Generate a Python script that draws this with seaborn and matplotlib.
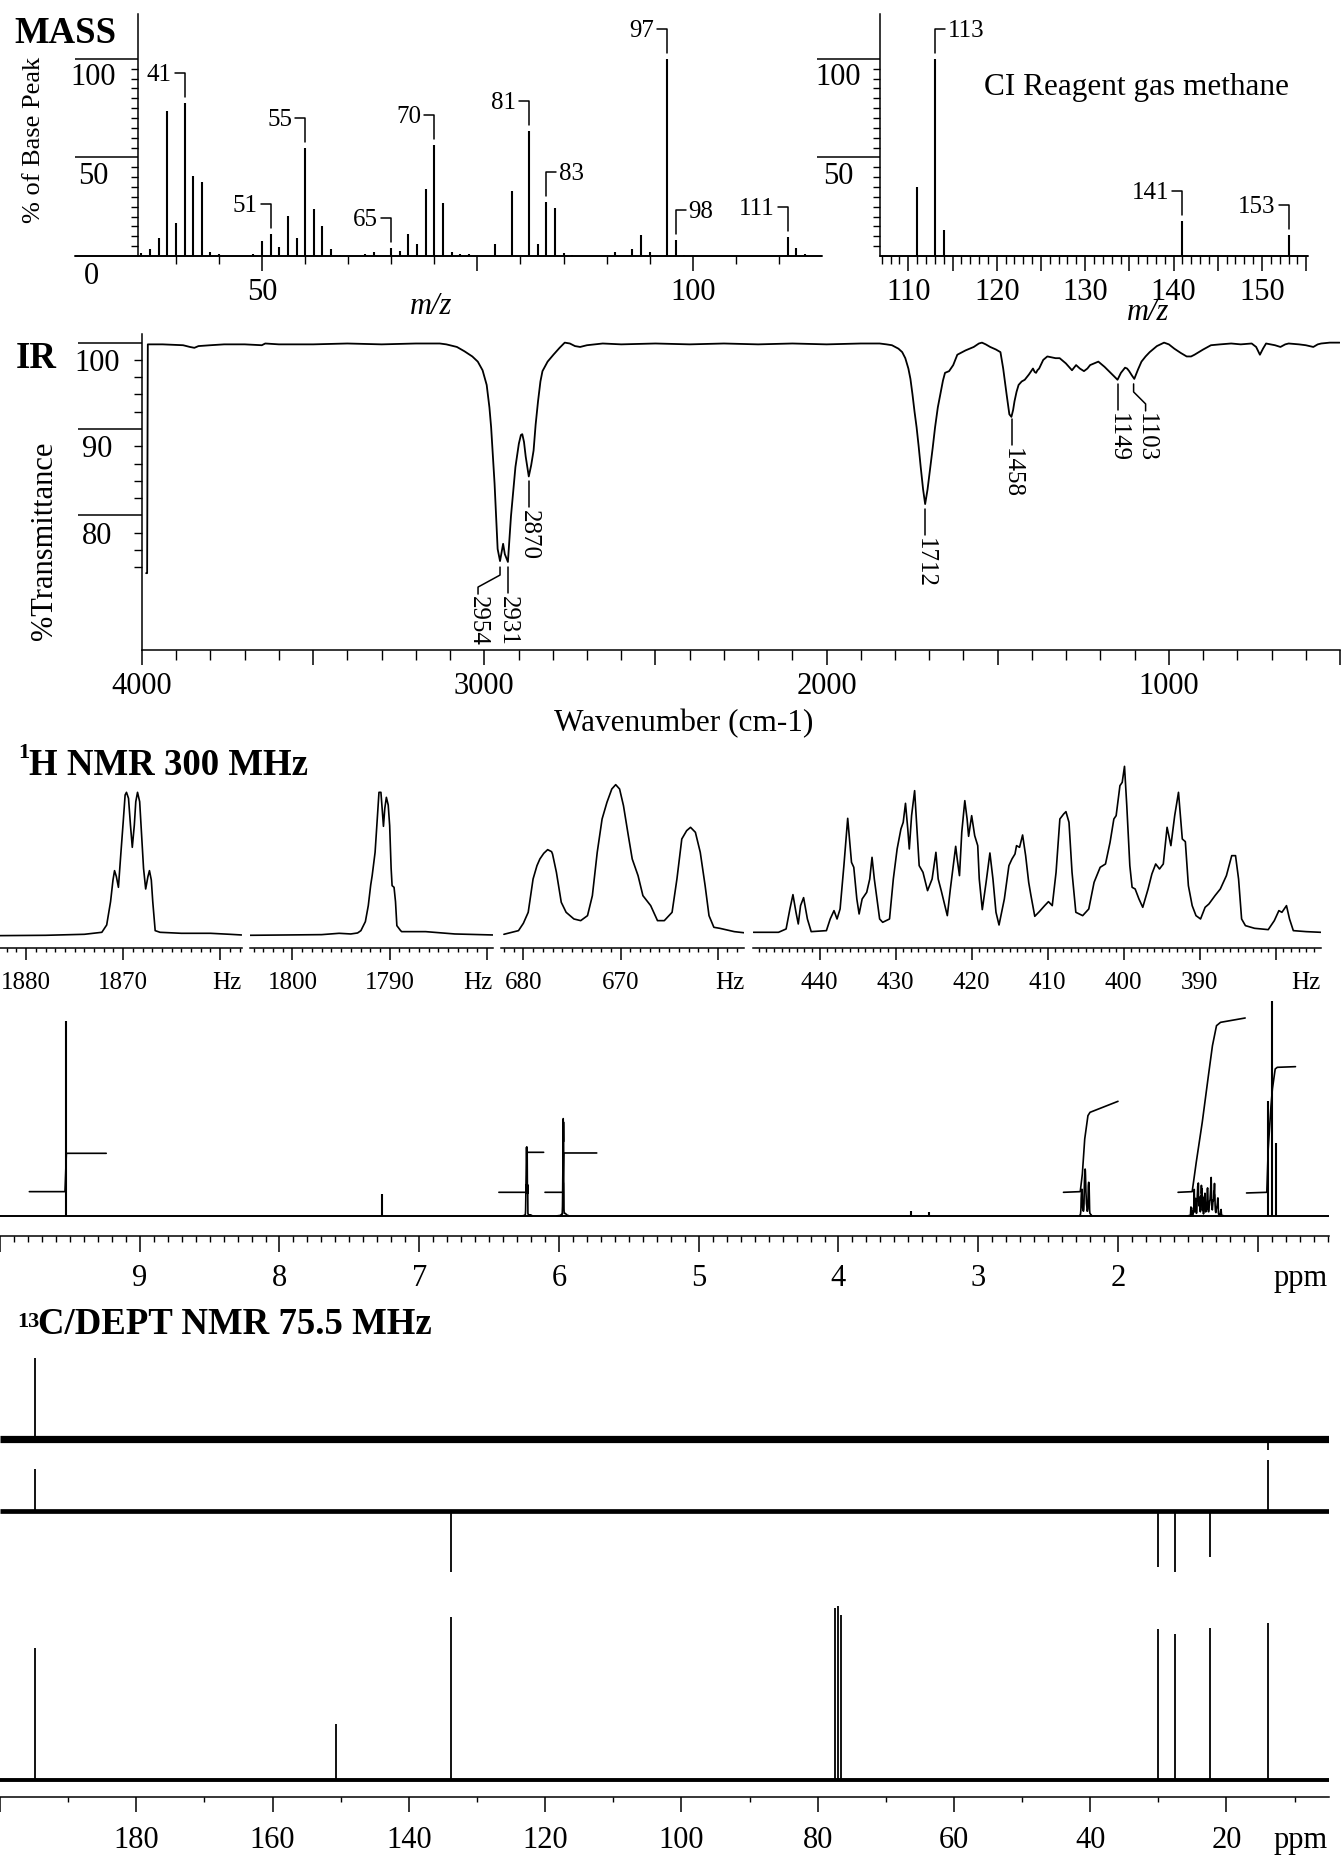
import numpy as np
import matplotlib
matplotlib.use("Agg")
import matplotlib.pyplot as plt
from matplotlib.ticker import MultipleLocator, FixedLocator
import seaborn as sns

# ---------------------------------------------------------------- data
# EI mass spectrum (m/z, % of base peak)
EI_MZ = [36, 37, 38, 39, 40, 41, 42, 43, 44, 45, 49, 50, 51, 52, 53, 54, 55, 56, 57, 58,
         59, 62, 63, 65, 66, 67, 68, 69, 70, 71, 72, 73, 74, 77, 79, 81, 82, 83, 84, 85,
         86, 91, 93, 94, 95, 97, 98, 99, 111, 112, 113]
EI_INT = [1.4, 3.7, 9.3, 73.4, 16.6, 77.5, 40.7, 37.3, 2.2, 1.0, 1.0, 7.6, 11.0, 4.7, 20.3, 9.0, 54.6, 23.7, 15.0, 3.4,
          0.5, 1.0, 2.2, 4.2, 2.5, 11.4, 6.3, 33.9, 56.4, 26.8, 2.0, 1.0, 0.8, 5.9, 33.0, 63.2, 6.3, 27.6, 24.2, 1.5,
          0.5, 2.2, 3.7, 10.5, 2.2, 100.0, 8.1, 0.5, 9.7, 4.2, 1.0]
EI_LABELS = [41, 51, 55, 65, 70, 81, 83, 97, 98, 111]
EI_LABEL_SIDE = ['l', 'l', 'l', 'l', 'l', 'l', 'r', 'l', 'r', 'l']

# CI mass spectrum
CI_MZ = [111, 113, 114, 141, 153]
CI_INT = [35.0, 100.0, 13.0, 17.8, 10.5]
CI_LABELS = [113, 141, 153]
CI_LABEL_SIDE = ['r', 'l', 'l']

# IR spectrum (wavenumber, %T)
IR_WN = [3988, 3985, 3983, 3940, 3880, 3860, 3847, 3835, 3800, 3760, 3700, 3650, 3640, 3600, 3500, 3400,
         3300, 3200, 3130, 3111, 3080, 3058, 3035, 3019, 3005, 2993, 2985, 2980, 2975, 2970, 2965, 2961,
         2954, 2949, 2945, 2940, 2931, 2922, 2915, 2909, 2899, 2893, 2889, 2884, 2879, 2870, 2863, 2856,
         2850, 2843, 2836, 2830, 2815, 2798, 2780, 2765, 2750, 2735, 2720, 2700, 2654, 2600, 2500, 2400,
         2300, 2200, 2100, 2000, 1900, 1845, 1825, 1809, 1790, 1779, 1770, 1761, 1755, 1749, 1743, 1737,
         1731, 1725, 1718, 1712, 1705, 1699, 1690, 1683, 1675, 1666, 1660, 1654, 1648, 1642, 1630, 1618,
         1594, 1570, 1555, 1546, 1535, 1522, 1505, 1492, 1484, 1479, 1474, 1466, 1460, 1455, 1451, 1445,
         1439, 1430, 1421, 1409, 1397, 1392, 1388, 1384, 1379, 1367, 1355, 1343, 1331, 1319, 1310, 1301,
         1292, 1283, 1271, 1260, 1248, 1238, 1230, 1218, 1206, 1197, 1188, 1170, 1160, 1150, 1140, 1128,
         1122, 1116, 1108, 1101, 1090, 1080, 1068, 1056, 1035, 1014, 1000, 984, 965, 948, 935, 925,
         900, 877, 850, 818, 790, 758, 745, 734, 725, 716, 690, 674, 660, 650, 620, 600,
         578, 565, 555, 530, 501]
IR_T = [73.3, 73.3, 99.8, 99.8, 99.7, 99.5, 99.4, 99.6, 99.7, 99.8, 99.8, 99.7, 99.9, 99.8, 99.8, 99.9,
        99.8, 99.9, 99.9, 99.8, 99.5, 99.0, 98.4, 97.8, 96.8, 95.1, 92.5, 90.2, 87.0, 83.7, 79.5, 76.1,
        74.7, 75.8, 76.7, 75.5, 74.6, 79.9, 83.0, 85.6, 88.3, 89.3, 89.4, 88.5, 86.8, 84.5, 85.8, 87.5,
        90.5, 93.2, 95.5, 96.7, 97.8, 98.6, 99.4, 100.0, 99.9, 99.6, 99.5, 99.7, 99.9, 99.8, 99.9, 99.8,
        99.9, 99.8, 99.9, 99.8, 99.9, 99.9, 99.8, 99.7, 99.3, 98.9, 98.2, 97.0, 95.8, 94.0, 92.0, 90.2,
        88.0, 85.6, 83.0, 81.3, 83.0, 84.9, 87.8, 90.2, 92.5, 94.4, 95.6, 96.5, 96.6, 96.7, 97.4, 98.6,
        99.1, 99.5, 99.9, 100.0, 99.8, 99.5, 99.2, 98.9, 97.0, 95.5, 94.0, 91.7, 91.4, 92.2, 93.2, 94.3,
        95.1, 95.5, 95.7, 96.3, 97.0, 96.6, 96.5, 96.8, 97.0, 98.0, 98.4, 98.3, 98.2, 98.2, 97.9, 97.6,
        97.2, 96.8, 97.4, 97.0, 96.7, 97.0, 97.4, 97.6, 97.8, 97.5, 97.2, 96.5, 96.1, 95.7, 96.5, 97.1,
        97.0, 96.7, 96.2, 95.8, 96.9, 97.8, 98.4, 98.9, 99.6, 100.0, 99.8, 99.3, 98.8, 98.4, 98.4, 98.6,
        99.2, 99.7, 99.8, 99.9, 99.8, 99.9, 99.5, 98.6, 99.3, 99.9, 99.7, 99.5, 99.8, 99.9, 99.8, 99.7,
        99.5, 99.8, 99.9, 100.0, 100.0]
IR_LABEL_WN = [2954, 2931, 2870, 1712, 1458, 1149, 1103]
IR_LABEL_SHIFT = [-22, 0, 0, 0, 0, 0, 12]

# 1H NMR expansions (Hz, intensity)
P1_HZ = [1882.7, 1878.0, 1874.0, 1872.2, 1871.7, 1871.3, 1871.05, 1870.89, 1870.7, 1870.49,
         1870.25, 1870.0, 1869.8, 1869.66, 1869.45, 1869.25, 1869.06, 1868.85, 1868.7, 1868.52,
         1868.3, 1868.1, 1867.9, 1867.68, 1867.45, 1867.29, 1867.1, 1866.95, 1866.7, 1866.2,
         1864.0, 1861.0, 1859.0, 1857.8]
P1_H = [-2, -1, 2, 8, 30, 100, 165, 193, 175, 143,
        240, 338, 420, 428, 410, 330, 263, 330, 400, 428,
        400, 300, 200, 138, 175, 193, 165, 100, 13, 8,
        5, 5, 2, 0]
P2_HZ = [1804.4, 1800.6, 1797.0, 1795.2, 1794.0, 1793.3, 1792.96, 1792.5, 1792.2, 1791.95,
         1791.8, 1791.5, 1791.25, 1791.1, 1790.9, 1790.75, 1790.64, 1790.5, 1790.34, 1790.15,
         1790.0, 1789.85, 1789.75, 1789.55, 1789.4, 1789.26, 1788.9, 1788.77, 1786.3, 1783.3,
         1779.4]
P2_H = [-1, 0, 1, 5, 3, 6, 13, 40, 88, 150,
        178, 248, 360, 428, 428, 370, 326, 380, 413, 390,
        328, 200, 148, 143, 100, 28, 14, 10, 10, 3,
        0]
P3_HZ = [682.0, 680.5, 680.0, 679.5, 679.0, 678.6, 678.3, 677.9, 677.5, 677.1,
         677.0, 676.6, 676.1, 675.6, 674.8, 674.1, 673.4, 672.9, 672.4, 671.9,
         671.4, 670.9, 670.5, 670.1, 669.7, 669.2, 668.8, 668.2, 667.7, 666.9,
         666.2, 665.5, 664.7, 664.2, 663.7, 663.2, 662.8, 662.3, 661.8, 661.3,
         660.9, 660.4, 659.8, 658.3, 657.1]
P3_H = [2, 13, 35, 68, 168, 208, 228, 245, 256, 250,
        243, 188, 98, 68, 48, 43, 58, 118, 248, 348,
        398, 438, 451, 438, 388, 298, 228, 178, 118, 88,
        43, 43, 68, 168, 288, 313, 323, 308, 248, 148,
        58, 23, 20, 10, 6]
P4_HZ = [448.7, 445.4, 444.4, 443.9, 443.5, 443.1, 442.8, 442.5, 442.1, 441.6,
         441.1, 439.1, 438.6, 438.1, 437.7, 437.3, 436.8, 436.3, 435.8, 435.5,
         435.1, 434.8, 434.4, 433.8, 433.4, 433.1, 432.8, 432.4, 432.1, 431.7,
         430.8, 430.3, 429.8, 429.3, 429.0, 428.7, 428.4, 428.2, 427.9, 427.5,
         427.2, 426.9, 426.4, 425.8, 425.2, 424.7, 424.4, 424.0, 423.2, 422.8,
         422.1, 421.9, 421.6, 421.3, 420.9, 420.6, 420.4, 420.0, 419.6, 419.2,
         419.0, 418.6, 418.1, 417.6, 417.2, 416.8, 416.4, 415.7, 415.1, 414.7,
         414.3, 414.1, 413.7, 413.3, 412.9, 412.5, 412.2, 411.7, 411.1, 410.4,
         409.9, 409.4, 408.9, 408.4, 407.9, 407.6, 407.2, 406.8, 406.3, 405.4,
         404.6, 403.9, 403.1, 402.4, 401.8, 401.3, 401.0, 400.5, 400.2, 399.9,
         399.6, 399.2, 398.9, 398.5, 398.0, 397.5, 396.8, 396.3, 395.8, 395.3,
         394.8, 394.3, 393.8, 393.3, 392.8, 392.3, 391.9, 391.5, 391.0, 390.5,
         389.9, 389.3, 388.8, 388.0, 387.3, 386.5, 385.8, 385.3, 384.9, 384.5,
         384.0, 382.8, 381.0, 380.2, 379.6, 379.2, 378.6, 378.2, 377.7, 376.0,
         374.1]
P4_H = [0, 0, 10, 70, 113, 60, 25, 80, 104, 40,
        2, 5, 40, 65, 40, 70, 200, 342, 210, 195,
        100, 55, 100, 120, 160, 225, 160, 90, 40, 30,
        40, 160, 250, 310, 330, 387, 310, 250, 350, 425,
        310, 200, 180, 125, 160, 240, 160, 125, 50, 130,
        258, 220, 170, 300, 395, 340, 288, 350, 290, 260,
        160, 68, 150, 238, 160, 60, 22, 100, 200, 220,
        235, 260, 255, 292, 230, 150, 110, 48, 62, 80,
        92, 80, 180, 340, 355, 362, 330, 180, 60, 50,
        70, 150, 195, 205, 270, 340, 350, 440, 450, 498,
        380, 200, 135, 130, 100, 75, 130, 175, 205, 190,
        205, 315, 260, 350, 420, 280, 272, 140, 80, 50,
        40, 75, 85, 110, 130, 170, 230, 230, 160, 40,
        20, 12, 8, 35, 65, 60, 80, 40, 5, 2,
        0]
EXP_TICK_LABELS = [[1880, 1870], [1800, 1790], [680, 670], [440, 430, 420, 410, 400, 390]]
SPEC_FREQ_MHZ = 300.0
FULL_SCALE = [0.48, 0.68, 0.31, 0.23]   # multiplet heights in the full spectrum relative to expansions

# 1H full spectrum: single lines (ppm, height)
H_STICK_PPM = [9.53, 7.27, 3.48, 3.35, 0.93, 0.90, 0.87]
H_STICK_H = [585, 65, 15, 12, 345, 645, 218]
# integral traces (ppm, height)
INT_PPM = [[9.79, 9.535, 9.525, 9.24],
           [6.43, 6.236, 6.228, 6.11],
           [6.10, 5.973, 5.965, 5.73],
           [2.39, 2.27, 2.255, 2.238, 2.215, 2.20, 2.00],
           [1.57, 1.469, 1.44, 1.397, 1.353, 1.324, 1.295, 1.266, 1.09],
           [1.08, 0.935, 0.925, 0.905, 0.895, 0.875, 0.86, 0.73]]
INT_H = [[72, 72, 187, 187],
         [70, 70, 190, 190],
         [70, 70, 188, 188],
         [70, 72, 125, 230, 300, 310, 343],
         [70, 72, 160, 280, 420, 510, 570, 580, 593],
         [68, 70, 200, 330, 380, 440, 445, 447]]

# 13C / DEPT
C13_PPM = [194.9, 150.7, 133.8, 77.4, 77.0, 76.6, 30.0, 27.5, 22.4, 13.9]
C13_INT = [131.5, 55.7, 163.0, 171.5, 173.5, 165.0, 150.7, 145.5, 151.8, 157.0]
DEPT135_PPM = [194.9, 133.8, 30.0, 27.5, 22.4, 13.9]
DEPT135_INT = [42.5, -61.0, -56.4, -61.0, -46.0, 51.0]
DEPT90_PPM = [194.9, 13.9]
DEPT90_INT = [81.5, -10.7]

# ---------------------------------------------------------------- style
sns.set_theme(style="ticks", rc={
    "axes.edgecolor": "black", "text.color": "black",
    "xtick.color": "black", "ytick.color": "black",
    "axes.linewidth": 1.1, "xtick.major.width": 1.1, "ytick.major.width": 1.1,
    "xtick.minor.width": 1.0, "ytick.minor.width": 1.0,
})
plt.rcParams['font.family'] = ['Liberation Serif', 'DejaVu Serif']

W, H = 1341, 1856
fig = plt.figure(figsize=(W / 100, H / 100), dpi=100)
fig.patch.set_facecolor('white')
PT = 0.72  # points per pixel at 100 dpi


def add_ax(x0, y0, x1, y1):
    ax = fig.add_axes([x0 / W, 1 - y1 / H, (x1 - x0) / W, (y1 - y0) / H])
    ax.set_facecolor('none')
    for s in ax.spines.values():
        s.set_visible(False)
    return ax


def ftext(x, y, s, **kw):
    fig.text(x / W, 1 - y / H, s, **kw)


def xlab(ax, val, ycen, s, size, **kw):
    X = ax.transData.transform((val, ax.get_ylim()[0]))[0]
    kw.setdefault('ha', 'center')
    fig.text(X / W, 1 - ycen / H, s, va='center', fontsize=size, **kw)


def d2p(ax, x, y):
    return ax.transData.transform((x, y))


def p2d(ax, pts):
    return ax.transData.inverted().transform(pts)


def line(ax, x, y, lw=1.3, **kw):
    sns.lineplot(x=list(x), y=list(y), ax=ax, color='black', lw=lw, sort=False,
                 estimator=None, legend=False, **kw)


# ---------------------------------------------------------------- MASS
def ms_panel(ax, mz, inten, labels, sides, xlim, major, minor, ticklabels, extend_left):
    ax.set_xlim(*xlim)
    ax.set_ylim(0, 122.8)
    ax.spines['left'].set_visible(True)
    ax.spines['left'].set_bounds(0, 122.8)
    ax.vlines(mz, 0, inten, color='black', lw=1.5)
    ax.plot([extend_left, 1], [0, 0], color='black', lw=1.4,
            transform=ax.get_yaxis_transform(), clip_on=False)
    ax.xaxis.set_major_locator(FixedLocator(major))
    ax.xaxis.set_minor_locator(FixedLocator(minor))
    ax.tick_params(axis='x', which='major', length=15 * PT, direction='out', labelbottom=False)
    ax.tick_params(axis='x', which='minor', length=8 * PT, direction='out')
    ax.yaxis.set_major_locator(FixedLocator([50, 100]))
    ax.yaxis.set_minor_locator(FixedLocator(list(range(5, 100, 5))))
    ax.tick_params(axis='y', which='major', length=63 * PT, direction='out', labelleft=False)
    ax.tick_params(axis='y', which='minor', length=7 * PT, direction='out')
    ax.set_xlabel('')
    ax.set_ylabel('')
    for m, s in zip(labels, sides):
        val = inten[mz.index(m)]
        X, Y = d2p(ax, m, val)
        y0, y1 = Y + 6, Y + 30
        xa = X - 10 if s == 'l' else X + 10
        P = p2d(ax, [(X, y0), (X, y1), (xa, y1)])
        ax.plot(P[:, 0], P[:, 1], color='black', lw=1.1, clip_on=False)
        tx = xa - 3 if s == 'l' else xa + 3
        T = p2d(ax, [(tx, y1 - 1)])[0]
        ax.text(T[0], T[1], str(m), ha='right' if s == 'l' else 'left', va='center',
                fontsize=18, clip_on=False)
    for v in ticklabels:
        xlab(ax, v, 293, str(v), 22)


ax_ei = add_ax(138, 15, 822, 257)
ms_panel(ax_ei, EI_MZ, EI_INT, EI_LABELS, EI_LABEL_SIDE, (35.6, 115),
         [50, 75, 100], list(range(40, 115, 5)), [50, 100], -63 / 684)
ax_ci = add_ax(880, 15, 1308, 257)
ms_panel(ax_ci, CI_MZ, CI_INT, CI_LABELS, CI_LABEL_SIDE, (106.8, 155.2),
         list(range(110, 156, 5)), list(range(107, 156)), [110, 120, 130, 140, 150], 0)

for ax, xc in ((ax_ei, 93.5), (ax_ci, 838)):
    for v in (100, 50):
        Y = H - d2p(ax, 0, v)[1]
        ftext(xc, Y + 18, str(v), fontsize=22, ha='center', va='center')

ftext(14.6, 42.7, 'MASS', fontsize=26.5, fontweight='bold', va='baseline', ha='left')
ftext(34, 140, '% of Base Peak', fontsize=19, rotation=90, ha='center', va='center')
ftext(91.5, 277, '0', fontsize=22, ha='center', va='center')
ftext(431, 307, 'm/z', fontsize=22, style='italic', ha='center', va='center')
ftext(1148, 313, 'm/z', fontsize=22, style='italic', ha='center', va='center')
ftext(1136, 88, 'CI Reagent gas methane', fontsize=22.5, ha='center', va='center')

# ---------------------------------------------------------------- IR
ax_ir = add_ax(142, 335, 1340, 651)
ax_ir.set_xlim(4000, 500)
ax_ir.set_ylim(64.4, 101.0)
ax_ir.spines['left'].set_visible(True)
ax_ir.spines['bottom'].set_visible(True)
line(ax_ir, IR_WN, IR_T, lw=1.3)
ax_ir.set_xlabel('')
ax_ir.set_ylabel('')
ax_ir.xaxis.set_major_locator(MultipleLocator(500))
ax_ir.xaxis.set_minor_locator(MultipleLocator(100))
ax_ir.tick_params(axis='x', which='major', length=15 * PT, direction='out', labelbottom=False)
ax_ir.tick_params(axis='x', which='minor', length=10 * PT, direction='out')
ax_ir.yaxis.set_major_locator(FixedLocator([80, 90, 100]))
ax_ir.yaxis.set_minor_locator(FixedLocator(list(range(74, 100, 2))))
ax_ir.tick_params(axis='y', which='major', length=64 * PT, direction='out', labelleft=False)
ax_ir.tick_params(axis='y', which='minor', length=8 * PT, direction='out')
for v in (4000, 3000, 2000, 1000):
    xlab(ax_ir, v, 687, str(v), 22)
for v in (100, 90, 80):
    Y = H - d2p(ax_ir, 4000, v)[1]
    ftext(97, Y + 20, str(v), fontsize=22, ha='center', va='center')

wn_rev = IR_WN[::-1]
t_rev = IR_T[::-1]
for wn, dx in zip(IR_LABEL_WN, IR_LABEL_SHIFT):
    T = float(np.interp(wn, wn_rev, t_rev))
    X, Y = d2p(ax_ir, wn, T)
    if dx == 0:
        pts = [(X, Y - 5), (X, Y - 31)]
        ty = Y - 33
    else:
        pts = [(X, Y - 6), (X, Y - 14), (X + dx, Y - 26), (X + dx, Y - 33)]
        ty = Y - 34
    P = p2d(ax_ir, pts)
    ax_ir.plot(P[:, 0], P[:, 1], color='black', lw=1.1, clip_on=False)
    Tt = p2d(ax_ir, [(X + dx, ty)])[0]
    ax_ir.text(Tt[0], Tt[1], str(wn), rotation=-90, ha='center', va='top', fontsize=18)

ftext(15.6, 368, 'IR', fontsize=26.5, fontweight='bold', va='baseline', ha='left')
ftext(44.6, 541, '%Transmittance', fontsize=22, rotation=90, ha='center', va='center')
ftext(684, 724, 'Wavenumber (cm-1)', fontsize=22.5, ha='center', va='center')

# ---------------------------------------------------------------- 1H expansions
ftext(18, 758, '1', fontsize=16, fontweight='bold', va='baseline', ha='left')
ftext(28.7, 775, 'H NMR 300 MHz', fontsize=26.5, fontweight='bold', va='baseline', ha='left')

exp_panels = [
    ((0, 241.5), (1882.7, 1857.8), P1_HZ, P1_H, 588),
    ((249.7, 492.7), (1804.4, 1779.4), P2_HZ, P2_H, 588),
    ((501, 744), (682.3, 657.3), P3_HZ, P3_H, 588),
    ((753.4, 1320.7), (448.7, 374.1), P4_HZ, P4_H, 580),
]
for (xr, xl, hz, hh, base), labs in zip(exp_panels, EXP_TICK_LABELS):
    ax = add_ax(xr[0], 760, xr[1], 949.3)
    ax.set_xlim(*xl)
    ax.set_ylim(base - 628, base - 60)
    ax.spines['bottom'].set_visible(True)
    line(ax, hz, hh, lw=1.2)
    ax.set_xlabel('')
    ax.set_ylabel('')
    ax.set_yticks([])
    ax.xaxis.set_major_locator(MultipleLocator(10))
    ax.xaxis.set_minor_locator(MultipleLocator(1))
    ax.tick_params(axis='x', which='major', length=12 * PT, direction='out', labelbottom=False)
    ax.tick_params(axis='x', which='minor', length=4 * PT, direction='out')
    for v in labs:
        xlab(ax, v, 983.3, str(v), 18)
    ftext(xr[1], 983.3, 'Hz', fontsize=18, ha='right', va='center')

# ---------------------------------------------------------------- 1H full spectrum
ax_h = add_ax(0, 990, 1329, 1237.3)
ax_h.set_xlim(10.0, 0.49)
ax_h.set_ylim(-62, 680)
ax_h.spines['bottom'].set_visible(True)
ax_h.hlines(0, 10.0, 0.49, color='black', lw=1.4)
ax_h.vlines(H_STICK_PPM, 0, H_STICK_H, color='black', lw=1.5)
for (xr, xl, hz, hh, base), sc in zip(exp_panels, FULL_SCALE):
    line(ax_h, np.array(hz) / SPEC_FREQ_MHZ, np.array(hh) * sc, lw=1.2)
for xp, yp in zip(INT_PPM, INT_H):
    line(ax_h, xp, yp, lw=1.2)
ax_h.set_xlabel('')
ax_h.set_ylabel('')
ax_h.set_yticks([])
ax_h.xaxis.set_major_locator(MultipleLocator(1))
ax_h.xaxis.set_minor_locator(MultipleLocator(0.1))
ax_h.tick_params(axis='x', which='major', length=16 * PT, direction='out', labelbottom=False)
ax_h.tick_params(axis='x', which='minor', length=6 * PT, direction='out')
for v in range(9, 1, -1):
    xlab(ax_h, v, 1278.3, str(v), 22)
ftext(1328, 1278.3, 'ppm', fontsize=22, ha='right', va='center')

# ---------------------------------------------------------------- 13C / DEPT
ftext(17, 1327, '13', fontsize=16, fontweight='bold', va='baseline', ha='left')
ftext(38, 1333.7, 'C/DEPT NMR 75.5 MHz', fontsize=26.5, fontweight='bold', va='baseline', ha='left')

ax_c = add_ax(0, 1340, 1328.7, 1798.2)
ax_c.set_xlim(200, 5)
ax_c.set_ylim(0, 458.2)
ax_c.spines['bottom'].set_visible(True)
traces = [(DEPT90_PPM, DEPT90_INT, 358.2, 5.2),
          (DEPT135_PPM, DEPT135_INT, 286.2, 3.4),
          (C13_PPM, C13_INT, 17.7, 2.8)]
for ppm, inten, off, blw in traces:
    ax_c.hlines(off, 200, 5, color='black', lw=blw)
    ax_c.vlines(ppm, off, np.array(inten) + off, color='black', lw=1.3)
ax_c.set_yticks([])
ax_c.xaxis.set_major_locator(MultipleLocator(20))
ax_c.xaxis.set_minor_locator(MultipleLocator(10))
ax_c.tick_params(axis='x', which='major', length=15 * PT, direction='out', labelbottom=False)
ax_c.tick_params(axis='x', which='minor', length=5 * PT, direction='out')
for v in range(180, 19, -20):
    xlab(ax_c, v, 1840.8, str(v), 22)
ftext(1328, 1840.8, 'ppm', fontsize=22, ha='right', va='center')

fig.savefig('out.png', dpi=100, facecolor='white')
